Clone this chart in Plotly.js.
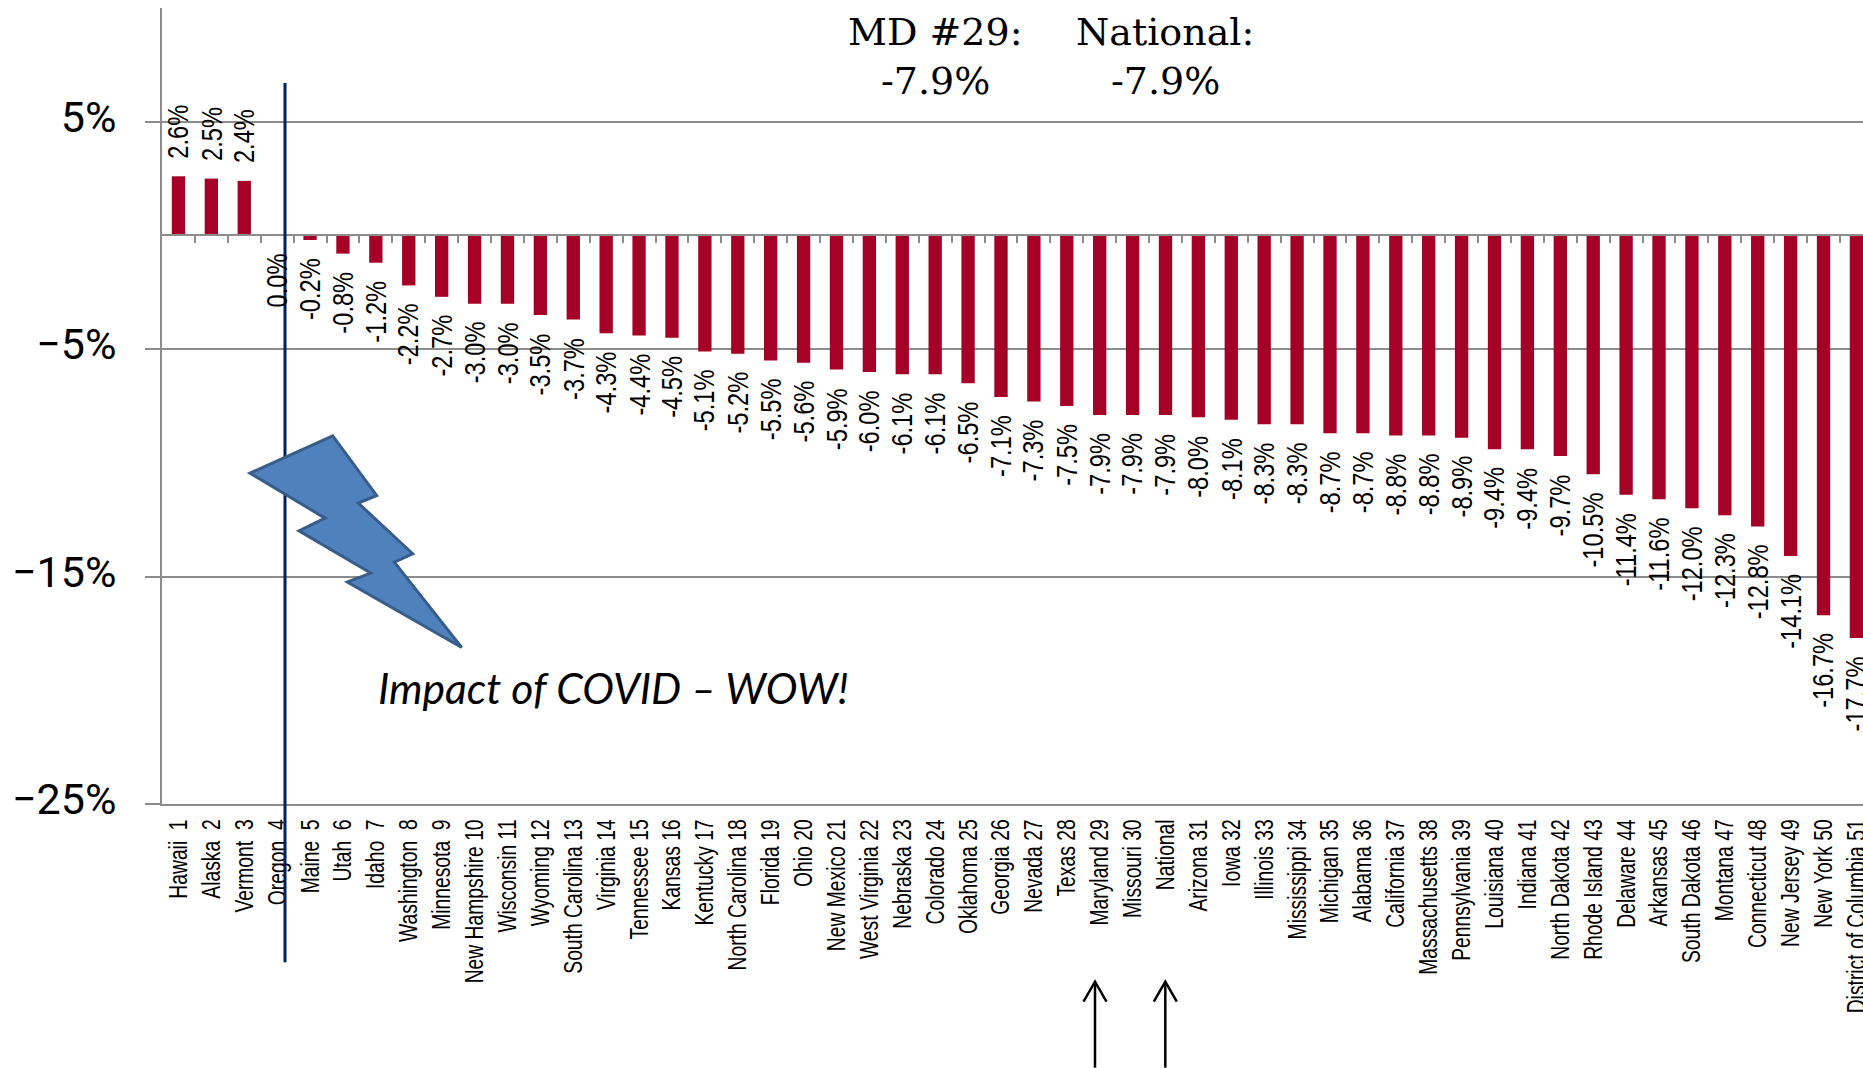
<!DOCTYPE html>
<html>
<head>
<meta charset="utf-8">
<script src="https://cdn.plot.ly/plotly-3.0.1.min.js"></script>
<style>html,body{margin:0;padding:0;background:#fff;overflow:hidden}</style>
</head>
<body>
<div id="chart" style="width:1863px;height:1068px"></div>
<script>
const categories = ["Hawaii\u00a0\u00a01","Alaska\u00a0\u00a02","Vermont\u00a0\u00a03","Oregon\u00a0\u00a04","Maine\u00a0\u00a05","Utah\u00a0\u00a06","Idaho\u00a0\u00a07","Washington\u00a0\u00a08","Minnesota\u00a0\u00a09","New Hampshire 10","Wisconsin 11","Wyoming 12","South Carolina 13","Virginia 14","Tennessee 15","Kansas 16","Kentucky 17","North Carolina 18","Florida 19","Ohio 20","New Mexico 21","West Virginia 22","Nebraska 23","Colorado 24","Oklahoma 25","Georgia 26","Nevada 27","Texas 28","Maryland 29","Missouri 30","National","Arizona 31","Iowa 32","Illinois 33","Mississippi 34","Michigan 35","Alabama 36","California 37","Massachusetts 38","Pennsylvania 39","Louisiana 40","Indiana 41","North Dakota 42","Rhode Island 43","Delaware 44","Arkansas 45","South Dakota 46","Montana 47","Connecticut 48","New Jersey 49","New York 50","District of Columbia 51"];
const values = [2.6,2.5,2.4,0.0,-0.2,-0.8,-1.2,-2.2,-2.7,-3.0,-3.0,-3.5,-3.7,-4.3,-4.4,-4.5,-5.1,-5.2,-5.5,-5.6,-5.9,-6.0,-6.1,-6.1,-6.5,-7.1,-7.3,-7.5,-7.9,-7.9,-7.9,-8.0,-8.1,-8.3,-8.3,-8.7,-8.7,-8.8,-8.8,-8.9,-9.4,-9.4,-9.7,-10.5,-11.4,-11.6,-12.0,-12.3,-12.8,-14.1,-16.7,-17.7];
const yTickVals = [5,-5,-15,-25];
const yTickText = ["5%","\u22125%","\u221215%","\u221225%"];
const calloutColumns = [["MD #29:","-7.9%"],["National:","-7.9%"]];
const note = "Impact of COVID \u2013 WOW!";

const W = 1863, H = 1068, L = 162, T = 8.05, B = 804.3;
const px = x => (x - L) / (W - L);
const py = y => 1 - (y - T) / (B - T);
const xRange = [-0.5, 51.2];
const gray = "#8c8c8c";
const sans = "'Liberation Sans',Arial,sans-serif";

function polyPath(pts, close) {
  return pts.map((p, i) => (i ? "L" : "M") + px(p[0]).toFixed(5) + "," + py(p[1]).toFixed(5)).join(" ") + (close ? " Z" : "");
}

const boltOutline = [[250,473.3],[332.7,436],[376.7,495.7],[358.3,503.3],[412.7,554],[394.3,562.3],[461.7,647.7],[347.3,582.3],[370.7,573.3],[299,531],[325,518.3]];
const arrowXs = [1095, 1165.3];

const shapes = [
  {type:"line",xref:"paper",yref:"paper",x0:px(285),x1:px(285),y0:py(83),y1:py(962.5),line:{color:"#002060",width:3}},
  {type:"path",xref:"paper",yref:"paper",path:polyPath(boltOutline,true),fillcolor:"#4F81BD",line:{color:"#385D8A",width:3}}
];
arrowXs.forEach(x => {
  shapes.push({type:"line",xref:"paper",yref:"paper",x0:px(x),x1:px(x),y0:py(982),y1:py(1068),line:{color:"#000",width:2.5}});
  shapes.push({type:"path",xref:"paper",yref:"paper",path:polyPath([[x-11.5,1002],[x,982],[x+11.5,1002]],false),fillcolor:"rgba(0,0,0,0)",line:{color:"#000",width:2.5}});
});

const annotations = values.map((v, i) => ({
  x: i, y: v, xref: "x", yref: "y", text: v.toFixed(1) + "%", showarrow: false, textangle: -90,
  xanchor: "center", yanchor: v > 0 ? "bottom" : "top", yshift: v > 0 ? 17 : -17,
  font: {family: sans, size: 29, color: "#000"}, borderpad: 0
}));
[[935, calloutColumns[0]], [1165, calloutColumns[1]]].forEach(c => {
  [32, 81].forEach((y, j) => annotations.push({
    xref:"paper",yref:"paper",x:px(c[0]),y:py(y),text:c[1][j],showarrow:false,xanchor:"center",yanchor:"middle",
    font:{family:"'DejaVu Serif',serif",size:38,color:"#000"}
  }));
});
annotations.push({xref:"paper",yref:"paper",x:px(376),y:py(688),text:"<i>"+note+"</i>",showarrow:false,xanchor:"left",yanchor:"middle",
  font:{family:"Lato,sans-serif",size:42.6,color:"#000"}});

const boundaries = categories.slice(1).map((c, i) => i + 0.5);

Plotly.newPlot("chart", [
  {type:"bar",x:categories,y:values,marker:{color:"#A50026"},width:0.405,hoverinfo:"x+y",xaxis:"x",yaxis:"y"},
  {type:"scatter",mode:"lines",x:xRange,y:[null,null],xaxis:"x2",yaxis:"y",hoverinfo:"skip",showlegend:false}
], {
  width:W,height:H,showlegend:false,paper_bgcolor:"#fff",plot_bgcolor:"#fff",
  margin:{l:L,r:0,t:T,b:H-B,pad:0},
  font:{family:sans,color:"#000"},
  xaxis:{type:"category",categoryorder:"array",categoryarray:categories,range:xRange,tickmode:"array",tickvals:categories,ticktext:categories,
    tickangle:-90,ticks:"",showgrid:false,zeroline:false,showline:true,linecolor:gray,linewidth:2,
    tickfont:{family:sans,size:26,color:"#000"},ticklabelstandoff:3,automargin:false},
  xaxis2:{overlaying:"x",anchor:"free",position:25/35,side:"bottom",range:xRange,tickmode:"array",tickvals:boundaries,ticks:"outside",ticklen:7,tickwidth:1.5,tickcolor:gray,
    showticklabels:false,showgrid:false,zeroline:false,showline:true,linecolor:gray,linewidth:2},
  yaxis:{range:[-25,10],tickmode:"array",tickvals:yTickVals,ticktext:yTickText,ticks:"outside",ticklen:15,tickwidth:2,tickcolor:gray,
    showgrid:true,gridcolor:gray,gridwidth:2,zeroline:false,showline:true,linecolor:gray,linewidth:2,
    tickfont:{family:"Roboto,sans-serif",size:43,color:"#000"},ticklabelstandoff:20,automargin:false},
  shapes:shapes,annotations:annotations,bargap:0.6
},{displayModeBar:false,responsive:false}).then(gd => {
  // The reference's sans text is condensed along its reading direction; keep it real text, narrowed in place.
  const tickSquash = 0.742, labelSquash = 0.816;
  gd.querySelectorAll(".xaxislayer-above .xtick text").forEach(t => {
    const x = t.getAttribute("x"), y = t.getAttribute("y");
    const cur = t.getAttribute("transform") || "";
    t.setAttribute("transform", `${cur} translate(${x},${y}) scale(${tickSquash},1) translate(${-x},${-y})`);
  });
  gd.querySelectorAll(".ytick text").forEach(t => {
    const cur = t.getAttribute("transform") || "";
    t.setAttribute("transform", `${cur} translate(0,-5)`);
  });
  gd.querySelectorAll(".annotation").forEach(a => {
    const i = +a.getAttribute("data-index");
    if (!(i < values.length)) return;
    const t = a.querySelector(".annotation-text");
    if (!t) return;
    const b = t.getBBox();
    const ox = values[i] > 0 ? b.x : b.x + b.width;
    t.setAttribute("transform", `translate(${ox},0) scale(${labelSquash},1) translate(${-ox},0)`);
  });
});
</script>
</body>
</html>
